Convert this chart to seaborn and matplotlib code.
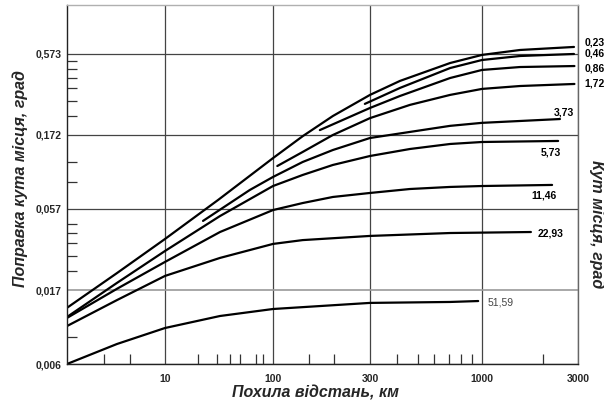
import numpy as np
import pandas as pd
import matplotlib
matplotlib.use("Agg")
import matplotlib.pyplot as plt
import seaborn as sns

# відстань, км / поправка, град — значення зчитані з номограми
km_023 = [1.43, 3.85, 10, 31, 100, 140, 197, 300, 414, 710, 1000, 1545, 2865]
deg_023 = [0.0132, 0.0221, 0.0367, 0.0655, 0.122, 0.169, 0.228, 0.312, 0.384, 0.501, 0.565, 0.608, 0.636]

km_046 = [283, 414, 710, 1000, 1545, 2865]
deg_046 = [0.273, 0.346, 0.465, 0.524, 0.556, 0.573]

km_086 = [170, 300, 414, 710, 1000, 1545, 2880]
deg_086 = [0.185, 0.257, 0.307, 0.401, 0.452, 0.472, 0.479]

km_172 = [105, 140, 197, 300, 461, 710, 1000, 1545, 2880]
deg_172 = [0.1085, 0.1337, 0.172, 0.221, 0.269, 0.312, 0.341, 0.356, 0.367]

km_373 = [22.5, 61, 100, 140, 197, 300, 461, 710, 1000, 2440]
deg_373 = [0.048, 0.076, 0.0922, 0.1152, 0.1376, 0.1645, 0.180, 0.197, 0.206, 0.218]

km_573 = [1.43, 3.85, 10, 32.3, 100, 140, 197, 300, 461, 710, 1000, 2390]
deg_573 = [0.01152, 0.0191, 0.0307, 0.0516, 0.0806, 0.0950, 0.1102, 0.1259, 0.1397, 0.1505, 0.155, 0.1574]

km_1146 = [1.43, 3.85, 10, 32.3, 100, 140, 197, 300, 461, 710, 1000, 2230]
deg_1146 = [0.01136, 0.0175, 0.0261, 0.0407, 0.0564, 0.0626, 0.0685, 0.0727, 0.0771, 0.0795, 0.0806, 0.0819]

km_2293 = [1.43, 3.85, 10, 32.3, 100, 140, 300, 710, 1750]
deg_2293 = [0.01007, 0.0148, 0.0212, 0.0277, 0.0341, 0.0361, 0.0384, 0.0401, 0.0407]

km_5159 = [1.43, 3.85, 10, 32.3, 100, 300, 710, 960]
deg_5159 = [0.00573, 0.00771, 0.00978, 0.01169, 0.01297, 0.0142, 0.0144, 0.0146]

curve_names = ["0,23", "0,46", "0,86", "1,72", "3,73", "5,73", "11,46", "22,93", "51,59"]
curve_km = [km_023, km_046, km_086, km_172, km_373, km_573, km_1146, km_2293, km_5159]
curve_deg = [deg_023, deg_046, deg_086, deg_172, deg_373, deg_573, deg_1146, deg_2293, deg_5159]

x_ticks = [10, 100, 300, 1000, 3000]
x_ticklabels = ["10", "100", "300", "1000", "3000"]
y_ticks = [0.00573, 0.0172, 0.0573, 0.172, 0.573]
y_ticklabels = ["0,006", "0,017", "0,057", "0,172", "0,573"]

# підписи кривих: зсув від кінця кривої (пікселі)
label_offsets = [(11, 4), (11, 0), (10, -2), (10, 0), (-6, 7), (-17, -12), (-21, -11), (7, -1), (9, -1)]

sns.set_style("white")
plt.rcParams["font.family"] = ["Liberation Sans", "DejaVu Sans"]

fig = plt.figure(figsize=(6.04, 4.05), dpi=100)
ax = fig.add_axes([67 / 604, 1 - 364 / 405, (578 - 67) / 604, (364 - 5) / 405])

for name, xs, ys in zip(curve_names, curve_km, curve_deg):
    df = pd.DataFrame({"km": xs, "deg": ys})
    sns.lineplot(data=df, x="km", y="deg", sort=False, estimator=None,
                 color="black", lw=1.6, solid_joinstyle="round", ax=ax)

# шкала відстані на номограмі нерівномірна: кусково-логарифмічна
x_logs = [np.log10(1.43), 1, 2, np.log10(300), 3, np.log10(3000)]
x_pos = [67, 165, 273, 370, 482, 578]


def fwd(x):
    x = np.asarray(x, dtype=float)
    lx = np.log10(np.where(x > 0, x, 1e-9))
    return np.interp(lx, x_logs, x_pos)


def inv(p):
    return 10 ** np.interp(np.asarray(p, dtype=float), x_pos, x_logs)


ax.set_xscale("function", functions=(fwd, inv))
ax.set_yscale("log")
ax.set_xlim(1.43, 3000)
ax.set_ylim(0.00573, 1.186)

ax.set_xticks(x_ticks, labels=x_ticklabels)
ax.set_xticks([3, 5, 20, 30, 40, 50, 70, 80, 150, 200, 400, 500, 600, 700, 800, 900, 2000], minor=True)
ax.set_yticks(y_ticks, labels=y_ticklabels)
ax.set_yticks([0.0086, 0.0229, 0.0286, 0.0344, 0.0401, 0.0458, 0.086, 0.115,
               0.229, 0.286, 0.344, 0.401, 0.458, 0.516], minor=True, labels=[])

ax.tick_params(which="both", bottom=True, left=True, top=False, right=False)
ax.tick_params(which="major", length=0, labelsize=7.5)
ax.tick_params(axis="x", which="major", pad=7)
ax.tick_params(axis="y", which="major", pad=4)
ax.tick_params(which="minor", direction="in", length=7.5, width=0.9, color="#333333")
for lab in ax.get_xticklabels() + ax.get_yticklabels():
    lab.set_fontweight("bold")

ax.grid(True, which="major", color="#444444", lw=0.9)
ax.yaxis.get_gridlines()[1].set_color("#9a9a9a")
ax.yaxis.get_gridlines()[1].set_linewidth(1.2)

for side, c in [("left", "#222222"), ("bottom", "#222222"), ("right", "#666666"), ("top", "#b0b0b0")]:
    ax.spines[side].set_visible(True)
    ax.spines[side].set_color(c)
    ax.spines[side].set_linewidth(1.0)

ax.set_xlabel("")
ax.set_ylabel("")

for i, name in enumerate(curve_names):
    xs, ys = curve_km[i], curve_deg[i]
    bold = name != "51,59"
    ax.annotate(name, xy=(xs[-1], ys[-1]), xytext=label_offsets[i], textcoords="offset pixels",
                ha="left", va="center", fontsize=7.5,
                fontweight="bold" if bold else "normal",
                color="black" if bold else "#444444", annotation_clip=False)

fig.text(315 / 604, 1 - 393 / 405, "Похила відстань, км", ha="center", va="center",
         fontsize=11.5, fontweight="bold", fontstyle="italic")
fig.text(20 / 604, 1 - 179 / 405, "Поправка кута місця, град", ha="center", va="center",
         rotation=90, fontsize=11.5, fontweight="bold", fontstyle="italic")
fig.text(597 / 604, 1 - 224 / 405, "Кут місця, град", ha="center", va="center",
         rotation=270, fontsize=11.5, fontweight="bold", fontstyle="italic")

fig.savefig("out.png", dpi=100)
